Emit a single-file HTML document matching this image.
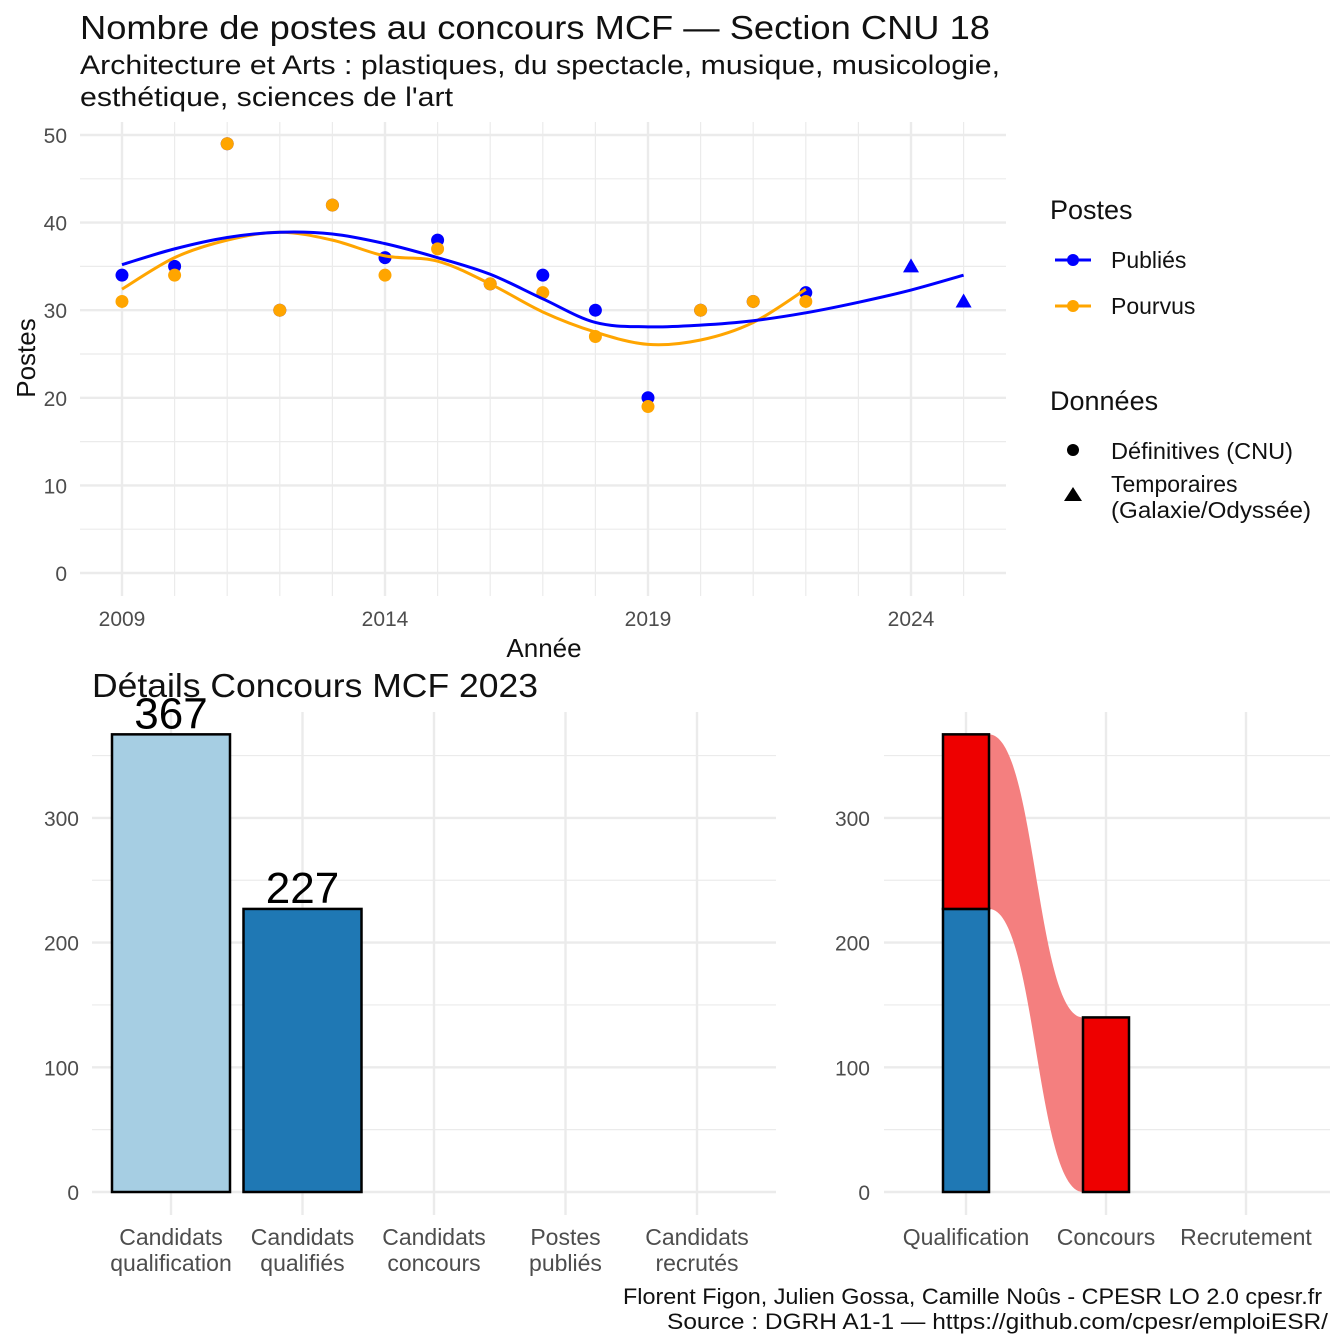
<!DOCTYPE html>
<html><head><meta charset="utf-8"><style>
body{margin:0;background:#fff;}
svg{display:block;font-family:"Liberation Sans",sans-serif;}
</style></head><body>
<svg id="c" width="1344" height="1344" xmlns="http://www.w3.org/2000/svg">
<rect width="1344" height="1344" fill="#fff"/>
<text x="80" y="39" font-size="33" fill="#111" textLength="910" lengthAdjust="spacingAndGlyphs">Nombre de postes au concours MCF —  Section CNU 18</text>
<text x="80" y="74" font-size="27" fill="#111" textLength="920" lengthAdjust="spacingAndGlyphs">Architecture et Arts : plastiques, du spectacle, musique, musicologie,</text>
<text x="80" y="106" font-size="27" fill="#111" textLength="373" lengthAdjust="spacingAndGlyphs">esthétique, sciences de l'art</text>
<g id="top"></g>
<text x="544" y="657" font-size="26" text-anchor="middle" fill="#111">Année</text>
<text transform="translate(35,358) rotate(-90)" font-size="26" text-anchor="middle" fill="#111">Postes</text>
<g>
<text x="1050" y="219" font-size="27" fill="#111">Postes</text>
<line x1="1055" y1="260" x2="1091" y2="260" stroke="#0000ff" stroke-width="3"/>
<circle cx="1073" cy="260" r="6" fill="#0000ff"/>
<text x="1111" y="268" font-size="23" fill="#111">Publiés</text>
<line x1="1055" y1="306" x2="1091" y2="306" stroke="#ffa500" stroke-width="3"/>
<circle cx="1073" cy="306" r="6" fill="#ffa500"/>
<text x="1111" y="314" font-size="23" fill="#111">Pourvus</text>
<text x="1050" y="410" font-size="27" fill="#111">Données</text>
<circle cx="1073" cy="450" r="6" fill="#000"/>
<text x="1111" y="459" font-size="23" fill="#111" textLength="182" lengthAdjust="spacingAndGlyphs">Définitives (CNU)</text>
<polygon points="1073,487 1082,501 1064,501" fill="#000"/>
<text x="1111" y="492" font-size="23" fill="#111">Temporaires</text>
<text x="1111" y="518" font-size="23" fill="#111" textLength="200" lengthAdjust="spacingAndGlyphs">(Galaxie/Odyssée)</text>
</g>
<text x="92" y="697" font-size="33" fill="#111" textLength="446" lengthAdjust="spacingAndGlyphs">Détails Concours MCF 2023</text>
<g id="bl"></g>
<g id="br"></g>
<text x="1322" y="1304" font-size="22" text-anchor="end" fill="#111" textLength="699" lengthAdjust="spacingAndGlyphs">Florent Figon, Julien Gossa, Camille Noûs - CPESR LO 2.0 cpesr.fr</text>
<text x="1328" y="1329" font-size="22" text-anchor="end" fill="#111" textLength="661" lengthAdjust="spacingAndGlyphs">Source : DGRH A1-1 — https://github.com/cpesr/emploiESR/</text>
</svg>
<script>
const NS="http://www.w3.org/2000/svg";
const yearsPub=[2009,2010,2011,2012,2013,2014,2015,2016,2017,2018,2019,2020,2021,2022];
const valsPub=[34,35,49,30,42,36,38,33,34,30,20,30,31,32];
const yearsPou=[2009,2010,2011,2012,2013,2014,2015,2016,2017,2018,2019,2020,2021,2022];
const valsPou=[31,34,49,30,42,34,37,33,32,27,19,30,31,31];
const yearsTmp=[2024,2025];
const valsTmp=[35,31];
const smoothYearsPub=[2009,2010,2011,2012,2013,2014,2015,2016,2017,2018,2019,2020,2021,2022,2023,2024,2025];
const smoothPub=[35.2,37,38.3,38.9,38.7,37.6,36,34.1,31.3,28.6,28.1,28.3,28.8,29.7,30.9,32.3,34];
const smoothYearsPou=[2009,2010,2011,2012,2013,2014,2015,2016,2017,2018,2019,2020,2021,2022];
const smoothPou=[32.4,36,38,38.9,38,36.2,35.6,33,29.8,27.5,26.1,26.6,28.6,32.4];
const yTicks=[0,10,20,30,40,50];
const xTicks=[2009,2014,2019,2024];
const barCats=["Candidats|qualification","Candidats|qualifiés","Candidats|concours","Postes|publiés","Candidats|recrutés"];
const barVals=[367,227,0,0,0];
const barTicks=[0,100,200,300];
const flowCats=["Qualification","Concours","Recrutement"];
const qualQualified=227, qualTotal=367, concoursVal=140;

function el(p,tag,a){const e=document.createElementNS(NS,tag);for(const k in a)e.setAttribute(k,a[k]);p.appendChild(e);return e;}
function txt(p,s,a){const e=el(p,"text",a);e.textContent=s;return e;}

const top_=document.getElementById("top");
const X=y=>122+(y-2009)*52.6, Y=v=>573-v*8.76;
for(let v=5;v<=50;v+=10){const l=el(top_,"line",{x1:80,x2:1006,y1:Y(v),y2:Y(v),stroke:"#ebebeb","stroke-width":1.2});}
for(let y=2008;y<=2026;y++){const xx=X(y);if(xx<80||xx>1006)continue;const l=el(top_,"line",{x1:xx,x2:xx,y1:122,y2:596,stroke:"#ebebeb","stroke-width":xTicks.includes(y)?2.4:1.2});}
yTicks.forEach(v=>{const l=el(top_,"line",{x1:80,x2:1006,y1:Y(v),y2:Y(v),stroke:"#ebebeb","stroke-width":2.4});
const t=txt(top_,String(v),{x:67,y:Y(v)+8,"font-size":21,"text-anchor":"end",fill:"#4d4d4d"});});
xTicks.forEach(y=>{const t=txt(top_,String(y),{x:X(y),y:626,"font-size":21,"text-anchor":"middle",fill:"#4d4d4d"});});
function path(xs,vs){const pts=xs.map((y,i)=>[X(y),Y(vs[i])]);let d="M"+pts[0];for(let i=0;i<pts.length-1;i++){const p0=pts[i-1]||pts[i],p1=pts[i],p2=pts[i+1],p3=pts[i+2]||p2;d+=` C${p1[0]+(p2[0]-p0[0])/6},${p1[1]+(p2[1]-p0[1])/6} ${p2[0]-(p3[0]-p1[0])/6},${p2[1]-(p3[1]-p1[1])/6} ${p2[0]},${p2[1]}`;}return d;}
yearsPub.forEach((y,i)=>{const c=el(top_,"circle",{cx:X(y),cy:Y(valsPub[i]),r:6.5,fill:"#0000ff"});});
yearsPou.forEach((y,i)=>{const c=el(top_,"circle",{cx:X(y),cy:Y(valsPou[i]),r:6.5,fill:"#ffa500"});});
let p=el(top_,"path",{d:path(smoothYearsPou,smoothPou),fill:"none",stroke:"#ffa500","stroke-width":3});
p=el(top_,"path",{d:path(smoothYearsPub,smoothPub),fill:"none",stroke:"#0000ff","stroke-width":3});
yearsTmp.forEach((y,i)=>{const x=X(y),yy=Y(valsTmp[i]);const t=el(top_,"polygon",{points:`${x},${yy-8} ${x+8},${yy+6} ${x-8},${yy+6}`,fill:"#0000ff"});});

const bl=document.getElementById("bl");
const BY=v=>1192-v*1.247, BX=i=>171+i*131.5;
[50,150,250,350].forEach(v=>{const l=el(bl,"line",{x1:92,x2:776,y1:BY(v),y2:BY(v),stroke:"#ebebeb","stroke-width":1.2});});
barCats.forEach((c,i)=>{const l=el(bl,"line",{x1:BX(i),x2:BX(i),y1:712,y2:1215,stroke:"#ebebeb","stroke-width":2.4});
c.split("|").forEach((s,j)=>{const t=txt(bl,s,{x:BX(i),y:1245+j*26,"font-size":23,"text-anchor":"middle",fill:"#4d4d4d"});});});
barTicks.forEach(v=>{const l=el(bl,"line",{x1:92,x2:776,y1:BY(v),y2:BY(v),stroke:"#ebebeb","stroke-width":2.4});
const t=txt(bl,String(v),{x:79,y:BY(v)+8,"font-size":21,"text-anchor":"end",fill:"#4d4d4d"});});
const cols=["#a6cee3","#1f78b4","#b2df8a","#33a02c","#fb9a99"];
barVals.forEach((v,i)=>{if(v<=0)return;const r=el(bl,"rect",{x:BX(i)-59,y:BY(v),width:118,height:v*1.247,fill:cols[i],stroke:"#000","stroke-width":2.5});
const t=txt(bl,String(v),{x:BX(i),y:BY(v)-6,"font-size":44,"text-anchor":"middle",fill:"#000"});});

const br=document.getElementById("br");
const FX=i=>966+i*140;
[50,150,250,350].forEach(v=>{const l=el(br,"line",{x1:884,x2:1330,y1:BY(v),y2:BY(v),stroke:"#ebebeb","stroke-width":1.2});});
flowCats.forEach((c,i)=>{const l=el(br,"line",{x1:FX(i),x2:FX(i),y1:712,y2:1215,stroke:"#ebebeb","stroke-width":2.4});
const t=txt(br,c,{x:FX(i),y:1245,"font-size":23,"text-anchor":"middle",fill:"#4d4d4d"});});
barTicks.forEach(v=>{const l=el(br,"line",{x1:884,x2:1330,y1:BY(v),y2:BY(v),stroke:"#ebebeb","stroke-width":2.4});
const t=txt(br,String(v),{x:870,y:BY(v)+8,"font-size":21,"text-anchor":"end",fill:"#4d4d4d"});});
const x1=FX(0)+23,x2=FX(1)-23,m=(x1+x2)/2;
const fl=el(br,"path",{d:`M${x1},${BY(qualTotal)} C${m},${BY(qualTotal)} ${m},${BY(concoursVal)} ${x2},${BY(concoursVal)} L${x2},${BY(0)} C${m},${BY(0)} ${m},${BY(qualQualified)} ${x1},${BY(qualQualified)} Z`,fill:"#f47f7f"});

let r=el(br,"rect",{x:FX(0)-23,y:BY(qualQualified),width:46,height:qualQualified*1.247,fill:"#1f78b4",stroke:"#000","stroke-width":2.5});
r=el(br,"rect",{x:FX(0)-23,y:BY(qualTotal),width:46,height:(qualTotal-qualQualified)*1.247,fill:"#ee0000",stroke:"#000","stroke-width":2.5});
r=el(br,"rect",{x:FX(1)-23,y:BY(concoursVal),width:46,height:concoursVal*1.247,fill:"#ee0000",stroke:"#000","stroke-width":2.5});
</script>
</body></html>
